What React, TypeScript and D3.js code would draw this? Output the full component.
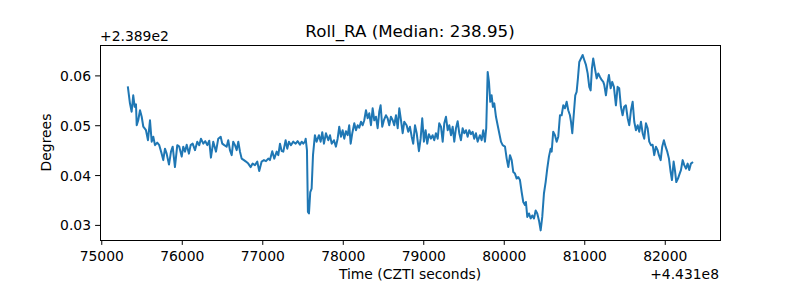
import React from "react";
import * as d3 from "d3";

// Time offsets (CZTI seconds - 4.431e8)
const times: number[] = [
  75325, 75350, 75371, 75391, 75409, 75425, 75434, 75453, 75475, 75496,
  75516, 75549, 75574, 75599, 75620, 75640, 75661, 75689, 75714, 75744,
  75764, 75785, 75806, 75835, 75860, 75881, 75909, 75938, 75963, 75993,
  76012, 76034, 76055, 76083, 76104, 76129, 76158, 76186, 76211, 76232,
  76261, 76286, 76311, 76335, 76356, 76385, 76419, 76447, 76477, 76497,
  76522, 76551, 76571, 76592, 76614, 76633, 76655, 76676, 76696, 76717,
  76738, 76766, 76791, 76820, 76850, 76874, 76903, 76932, 76956, 76986,
  77015, 77040, 77068, 77089, 77118, 77143, 77173, 77193, 77214, 77235,
  77255, 77284, 77304, 77325, 77350, 77379, 77409, 77433, 77462, 77483,
  77503, 77524, 77533, 77549, 77561, 77574, 77590, 77607, 77624, 77640,
  77648, 77669, 77698, 77719, 77739, 77760, 77785, 77814, 77835, 77856,
  77884, 77909, 77930, 77950, 77971, 77992, 78012, 78033, 78055, 78074,
  78092, 78112, 78137, 78158, 78179, 78199, 78220, 78241, 78261, 78282,
  78303, 78323, 78344, 78365, 78385, 78406, 78427, 78447, 78464, 78484,
  78505, 78530, 78551, 78571, 78592, 78614, 78633, 78655, 78676, 78696,
  78717, 78738, 78758, 78787, 78807, 78828, 78850, 78869, 78891, 78912,
  78940, 78961, 78981, 79002, 79023, 79043, 79064, 79089, 79110, 79130,
  79151, 79173, 79192, 79214, 79235, 79255, 79276, 79297, 79317, 79338,
  79359, 79379, 79400, 79421, 79441, 79462, 79483, 79503, 79524, 79545,
  79565, 79586, 79607, 79627, 79648, 79669, 79698, 79719, 79739, 79760,
  79776, 79794, 79810, 79826, 79843, 79859, 79876, 79897, 79918, 79938,
  79959, 79980, 80009, 80030, 80050, 80071, 80092, 80112, 80133, 80154,
  80174, 80195, 80216, 80236, 80257, 80269, 80286, 80307, 80328, 80348,
  80369, 80390, 80410, 80431, 80452, 80472, 80493, 80514, 80534, 80555,
  80576, 80589, 80608, 80630, 80651, 80671, 80692, 80713, 80733, 80754,
  80775, 80795, 80816, 80829, 80845, 80866, 80882, 80899, 80915, 80932,
  80953, 80974, 80994, 81015, 81036, 81056, 81073, 81089, 81105, 81126,
  81148, 81168, 81189, 81210, 81230, 81242, 81263, 81284, 81300, 81322,
  81341, 81362, 81387, 81408, 81428, 81449, 81470, 81490, 81511, 81533,
  81553, 81574, 81595, 81615, 81636, 81657, 81677, 81698, 81719, 81739,
  81760, 81781, 81801, 81822, 81843, 81863, 81884, 81905, 81921, 81943,
  81962, 81983, 82004, 82025, 82046, 82067, 82083, 82104, 82120, 82137,
  82158, 82179, 82195, 82216, 82236, 82257, 82278, 82298, 82319, 82335,
];

// Roll RA offsets (degrees - 238.9)
const rollRA: number[] = [
  0.0577, 0.0545, 0.0528, 0.0561, 0.0538, 0.0543, 0.0501, 0.0511, 0.0531, 0.0518,
  0.0498, 0.0491, 0.0471, 0.0511, 0.0468, 0.0478, 0.0461, 0.0466, 0.0461, 0.0444,
  0.0431, 0.0454, 0.0444, 0.0422, 0.0448, 0.0458, 0.0417, 0.0461, 0.0458, 0.0438,
  0.0458, 0.0448, 0.0462, 0.0444, 0.0461, 0.0464, 0.0451, 0.0468, 0.0461, 0.0474,
  0.0464, 0.0469, 0.0461, 0.0470, 0.0436, 0.0468, 0.0448, 0.0474, 0.0478, 0.0464,
  0.0461, 0.0458, 0.0471, 0.0451, 0.0441, 0.0468, 0.0461, 0.0451, 0.0468, 0.0448,
  0.0434, 0.0431, 0.0428, 0.0424, 0.0417, 0.0424, 0.0421, 0.0428, 0.0409, 0.0428,
  0.0431, 0.0429, 0.0434, 0.0431, 0.0449, 0.0434, 0.0448, 0.0441, 0.0464, 0.0449,
  0.0448, 0.0471, 0.0454, 0.0468, 0.0461, 0.0468, 0.0464, 0.0469, 0.0462, 0.0468,
  0.0464, 0.0468, 0.0474, 0.0451, 0.0327, 0.0324, 0.0367, 0.0374, 0.0441, 0.0468,
  0.0481, 0.0468, 0.0481, 0.0468, 0.0487, 0.0464, 0.0485, 0.0471, 0.0481, 0.0464,
  0.0471, 0.0458, 0.0474, 0.0498, 0.0478, 0.0491, 0.0474, 0.0489, 0.0481, 0.0501,
  0.0464, 0.0485, 0.0505, 0.0491, 0.0501, 0.0496, 0.0508, 0.0501, 0.0511, 0.0531,
  0.0515, 0.0525, 0.0501, 0.0535, 0.0511, 0.0518, 0.0495, 0.0528, 0.0541, 0.0498,
  0.0511, 0.0521, 0.0515, 0.0501, 0.0518, 0.0511, 0.0501, 0.0521, 0.0495, 0.0535,
  0.0511, 0.0485, 0.0508, 0.0501, 0.0488, 0.0498, 0.0478, 0.0464, 0.0501, 0.0485,
  0.0449, 0.0474, 0.0515, 0.0468, 0.0491, 0.0464, 0.0483, 0.0474, 0.0481, 0.0471,
  0.0485, 0.0474, 0.0505, 0.0498, 0.0468, 0.0505, 0.0518, 0.0491, 0.0501, 0.0481,
  0.0498, 0.0468, 0.0495, 0.0509, 0.0485, 0.0471, 0.0495, 0.0485, 0.0491, 0.0478,
  0.0491, 0.0483, 0.0488, 0.0474, 0.0485, 0.0468, 0.0481, 0.0471, 0.0491, 0.0468,
  0.0495, 0.0608, 0.0588, 0.0548, 0.0561, 0.0538, 0.0545, 0.0518, 0.0501, 0.0485,
  0.0468, 0.0461, 0.0458, 0.0434, 0.0417, 0.0441, 0.0431, 0.0407, 0.0404, 0.0394,
  0.0397, 0.0391, 0.0367, 0.0347, 0.0341, 0.0347, 0.0317, 0.0324, 0.0314, 0.0320,
  0.0314, 0.0330, 0.0324, 0.0310, 0.0290, 0.0317, 0.0364, 0.0387, 0.0414, 0.0438,
  0.0454, 0.0448, 0.0488, 0.0481, 0.0468, 0.0478, 0.0521, 0.0521, 0.0541, 0.0535,
  0.0548, 0.0531, 0.0521, 0.0508, 0.0485, 0.0528, 0.0561, 0.0568, 0.0595, 0.0628,
  0.0635, 0.0642, 0.0632, 0.0622, 0.0605, 0.0578, 0.0571, 0.0615, 0.0635, 0.0615,
  0.0595, 0.0605, 0.0598, 0.0592, 0.0588, 0.0582, 0.0561, 0.0588, 0.0602, 0.0575,
  0.0588, 0.0578, 0.0541, 0.0578, 0.0575, 0.0538, 0.0521, 0.0538, 0.0541, 0.0515,
  0.0501, 0.0531, 0.0548, 0.0508, 0.0491, 0.0501, 0.0488, 0.0508, 0.0485, 0.0474,
  0.0505, 0.0495, 0.0468, 0.0461, 0.0462, 0.0441, 0.0458, 0.0451, 0.0441, 0.0431,
  0.0458, 0.0471, 0.0458, 0.0448, 0.0434, 0.0407, 0.0391, 0.0428, 0.0411, 0.0387,
  0.0394, 0.0404, 0.0411, 0.0431, 0.0421, 0.0414, 0.0424, 0.0411, 0.0424, 0.0426,
];

const xTicks: number[] = [75000, 76000, 77000, 78000, 79000, 80000, 81000, 82000];
const yTicks: number[] = [0.03, 0.04, 0.05, 0.06];
const xDomain: [number, number] = [74978, 82680];
const yDomain: [number, number] = [0.02707, 0.0662];

const titleText = "Roll_RA (Median: 238.95)";
const xLabel = "Time (CZTI seconds)";
const yLabel = "Degrees";
const xOffsetText = "+4.431e8";
const yOffsetText = "+2.389e2";

export default function App() {
  const W = 800, H = 300;
  const L = 100, R = 720, T = 45, B = 240;
  const x = d3.scaleLinear().domain(xDomain).range([L, R]);
  const y = d3.scaleLinear().domain(yDomain).range([B, T]);
  const pts: [number, number][] = times.map((t, i) => [t, rollRA[i]]);
  const line = d3.line<[number, number]>().x((d) => x(d[0])).y((d) => y(d[1]));
  const font = "DejaVu Sans, sans-serif";
  const fs = 13.9;
  const tickLen = 4.9;

  return (
    <svg width={W} height={H} style={{ position: "absolute", left: 0, top: 0, background: "#fff" }} fontFamily={font}>
      <rect x={0} y={0} width={W} height={H} fill="#fff" />
      <path d={line(pts) || ""} fill="none" stroke="#1f77b4" strokeWidth={2} strokeLinejoin="round" strokeLinecap="square" />
      <rect x={L} y={T} width={R - L} height={B - T} fill="none" stroke="#000" strokeWidth={1} shapeRendering="crispEdges" />
      {xTicks.map((t) => (
        <g key={"x" + t}>
          <line x1={x(t)} x2={x(t)} y1={B} y2={B + tickLen} stroke="#000" strokeWidth={1} />
          <text x={x(t)} y={261} fontSize={fs} textAnchor="middle" fill="#000">{t}</text>
        </g>
      ))}
      {yTicks.map((v) => (
        <g key={"y" + v}>
          <line x1={L - tickLen} x2={L} y1={y(v)} y2={y(v)} stroke="#000" strokeWidth={1} />
          <text x={91} y={y(v)} dy="0.36em" fontSize={fs} textAnchor="end" fill="#000">{v.toFixed(2)}</text>
        </g>
      ))}
      <text x={(L + R) / 2} y={37} fontSize={16.7} textAnchor="middle" fill="#000">{titleText}</text>
      <text x={L} y={40.5} fontSize={fs} textAnchor="start" fill="#000">{yOffsetText}</text>
      <text x={(L + R) / 2} y={278.5} fontSize={fs} textAnchor="middle" fill="#000">{xLabel}</text>
      <text x={R - 1} y={278.5} fontSize={fs} textAnchor="end" fill="#000">{xOffsetText}</text>
      <text transform={`translate(50.5,${(T + B) / 2}) rotate(-90)`} fontSize={fs} textAnchor="middle" fill="#000">{yLabel}</text>
    </svg>
  );
}
